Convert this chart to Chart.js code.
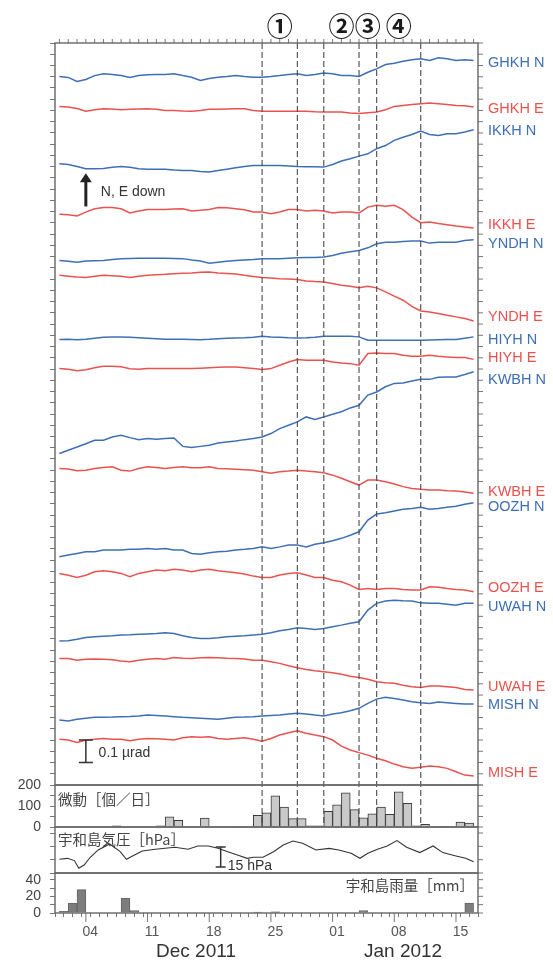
<!DOCTYPE html>
<html lang="ja">
<head>
<meta charset="UTF-8">
<title>傾斜変化 GHKH–MISH</title>
<script src="https://cdn.jsdelivr.net/npm/chart.js@4.4.1/dist/chart.umd.min.js"></script>
<style>
  html, body { margin: 0; padding: 0; background: #fff; }
  #wrap { width: 553px; height: 960px; }
</style>
</head>
<body>
<div id="wrap"><canvas id="tiltChart" width="553" height="960"></canvas></div>
<script>
// days since 1 Dec 2011 (00:00)
const dayIndex = [0, 1, 2, 3, 4, 5, 6, 7, 8, 9, 10, 11, 12, 13, 14, 15, 16, 17, 18, 19, 20, 21, 22, 23,
                  24, 25, 26, 27, 28, 29, 30, 31, 32, 33, 34, 35, 36, 37, 38, 39, 40, 41, 42, 43, 44, 45, 46, 47];

const tickDays = [3, 10, 17, 24, 31, 38, 45];
const tickText = ['04', '11', '18', '25', '01', '08', '15'];
const monthLabels = ['Dec 2011', 'Jan 2012'];
const monthDays = [15.5, 39.0];

// dashed lines and numbered episodes
const eventDays = [23, 27, 30, 34, 36, 41];
const phaseLabels = ['①', '②', '③', '④'];
const phaseDays = [25, 32, 35, 38.5];

// tilt traces, units of 0.01 µrad; base = stacked level on 1 Dec, series = change from that day
const traceNames = ['GHKH N', 'GHKH E', 'IKKH N', 'IKKH E', 'YNDH N', 'YNDH E', 'HIYH N', 'HIYH E',
                    'KWBH N', 'KWBH E', 'OOZH N', 'OOZH E', 'UWAH N', 'UWAH E', 'MISH N', 'MISH E'];
const traceBase = [315.1, 301.8, 276.3, 253.8, 233.3, 226.7, 198.1, 185.2,
                   147.4, 140.8, 101.5, 94.1, 64.0, 56.3, 28.9, 20.3];

const ghkhN = [0, -0.4, -2.2, -1.3, 0.4, 1.2, 0.9, 0.4, -0.4, 0.4,
  0.8, 0.9, 0.9, 1.2, 0.4, -0.3, -1.8, -0.9, -0.3, 0,
  0.4, 0, -0.3, -0.3, 0, 0.4, 0.9, 1.2, 0.4, 0.9,
  1.6, 1.2, 0.4, 0.4, 0, 1.9, 3.4, 5.3, 5.9, 6.8,
  7.4, 7.9, 7.1, 8.3, 7.9, 7.1, 7.4, 7.1];
const ghkhE = [0, -0.3, -0.9, -2.1, -1.5, -1.0, -1.2, -1.5, -1.3, -1.1,
  -1.0, -1.3, -1.8, -1.8, -2.0, -2.1, -1.8, -1.3, -1.3, -1.1,
  -1.0, -1.0, -1.8, -2.1, -2.1, -2.1, -2.1, -2.1, -2.2, -2.4,
  -2.5, -2.5, -2.5, -2.9, -3.2, -2.8, -2.5, -1.5, 0, 0.4,
  0.8, 1.2, 1.5, 1.2, 0.9, 0.4, 0.3, -0.3];
const ikkhN = [0, -0.3, -1.2, -2.2, -2.2, -2.1, -1.6, -1.2, -1.6, -2.2,
  -2.4, -2.5, -2.5, -2.8, -3.0, -3.0, -3.4, -3.7, -3.0, -2.4,
  -1.8, -1.2, -0.8, -0.8, -0.8, -0.8, -1.0, -1.2, -1.3, -1.3,
  -1.5, -0.3, 1.2, 2.2, 3.4, 4.4, 6.7, 8.1, 10.4, 11.8,
  13.0, 14.5, 13.0, 12.6, 13.3, 13.3, 14.1, 15.1];
const ikkhE = [0, -0.2, -0.7, 1.0, 2.5, 3.0, 3.0, 2.5, 0.6, 1.5,
  2.2, 2.2, 2.2, 2.4, 2.5, 1.5, 1.8, 2.2, 3.0, 2.9,
  2.5, 2.0, 1.0, 1.0, 0.3, 1.0, 2.1, 2.2, 1.5, 1.8,
  1.5, 0.6, 1.0, 1.0, 0.6, 3.2, 4.0, 3.6, 4.0, 2.1,
  -1.2, -3.7, -3.4, -4.1, -4.6, -5.2, -5.6, -6.1];
const yndhN = [0, -0.4, -0.8, -0.3, -0.1, 0, 0.4, 0.8, 0.9, 1.0,
  1.0, 1.0, 1.0, 0.9, 0.8, 0.2, -0.3, -1.2, -0.8, -0.4,
  0, 0.2, 0.4, 0.8, 0.8, 0.8, 1.0, 1.2, 1.3, 1.3,
  1.5, 2.2, 3.2, 3.9, 4.4, 5.6, 7.4, 8.1, 8.1, 8.4,
  8.6, 8.6, 7.7, 8.1, 8.1, 8.1, 8.9, 9.2];
const yndhE = [0, -0.4, -0.8, -1.0, -0.4, 0, -0.2, -0.4, -1.0, -0.4,
  0, 0.2, 0.4, 0.7, 0.9, 1.0, 1.3, 1.5, 1.0, 0.8,
  0.6, 0, -0.5, -1.0, -1.2, -1.5, -1.7, -1.9, -2.5, -2.8,
  -3.0, -3.7, -4.4, -4.9, -5.6, -4.9, -5.6, -7.4, -9.3, -11.1,
  -13.8, -15.9, -16.3, -17.0, -17.8, -18.5, -19.2, -20.3];
const hiyhN = [0, 0.1, -0.1, 0.1, 0.6, 1.0, 1.2, 1.2, 1.0, 0.8,
  0.6, 0.4, 0.1, 0.1, 0.1, 0, -0.1, 0.1, 0.4, 0.6,
  0.7, 0.8, 1.0, 1.5, 1.2, 1.0, 0.8, 0.7, 0.8, 1.0,
  1.5, 1.5, 1.5, 1.5, 1.2, -0.3, -0.3, -0.3, -0.3, -0.3,
  -0.3, -0.3, -0.2, -0.1, 0, 0, 0.6, 1.2];
const hiyhE = [0, -0.3, -1.0, -0.5, 0.4, 1.0, 1.0, 0.8, -0.1, -0.3,
  0, 0, 0, 0, 0, 0, 0.2, 0.4, 0.6, 0.7,
  0.7, 0.4, 0, -0.4, 0, 1.5, 2.9, 4.0, 3.7, 3.7,
  3.7, 2.9, 2.5, 2.2, 1.5, 6.7, 6.9, 6.7, 6.7, 5.9,
  5.5, 5.5, 5.9, 5.5, 5.2, 4.9, 4.9, 4.1];
const kwbhN = [0, 1.5, 2.9, 4.4, 5.9, 5.9, 7.4, 8.1, 7.1, 6.2,
  6.7, 6.4, 6.7, 6.9, 3.2, 2.7, 3.2, 3.7, 4.7, 5.2,
  5.6, 6.2, 6.7, 7.4, 8.9, 11.1, 12.6, 14.1, 16.3, 15.2,
  16.3, 17.5, 18.6, 20.3, 21.5, 26.0, 27.4, 29.7, 31.2, 31.4,
  32.3, 33.0, 33.0, 33.9, 34.1, 34.1, 35.2, 36.4];
const kwbhE = [0, -0.3, -1.0, -0.8, 0, 0.4, 0.7, -0.8, -1.2, 0,
  0.7, 0.4, 0, 0.4, 0.7, 0.3, 0.3, 0.7, 0, -0.2,
  -0.4, -0.6, -0.8, -1.5, -2.2, -1.5, -1.2, -0.8, -1.2, -1.5,
  -1.9, -3.0, -4.4, -5.9, -7.4, -5.2, -5.2, -5.9, -6.9, -8.1,
  -8.9, -9.3, -9.6, -9.6, -9.9, -10.1, -10.5, -11.0];
const oozhN = [0, 0.8, 1.5, 2.2, 2.2, 3.0, 3.0, 3.0, 3.4, 3.3,
  3.7, 3.3, 3.7, 3.0, 3.0, 1.5, 1.1, 1.8, 2.2, 2.5,
  3.0, 3.3, 3.7, 4.4, 3.7, 4.4, 5.2, 5.2, 4.4, 5.6,
  6.2, 7.1, 8.2, 9.6, 11.1, 16.3, 19.0, 19.6, 20.4, 21.1,
  21.5, 22.0, 21.1, 21.5, 22.0, 22.5, 23.4, 24.0];
const oozhE = [0, -0.8, -1.8, -0.8, 0.7, 1.2, 0.7, 0, -1.5, 0,
  0.7, 1.5, 1.2, 1.8, 1.5, 0.7, 1.5, 1.8, 1.2, 0.7,
  0.3, -0.3, -1.2, -1.8, -1.8, -0.7, 0, 0.3, -0.7, -1.8,
  -1.8, -3.0, -3.7, -5.2, -7.1, -6.7, -7.1, -6.7, -6.7, -7.1,
  -7.4, -7.4, -5.9, -6.2, -6.7, -7.1, -7.4, -8.2];
const uwahN = [0, 0.2, 0.8, 1.6, 1.9, 2.2, 2.4, 2.7, 2.8, 3.0,
  3.2, 3.4, 3.7, 3.4, 2.4, 1.6, 1.2, 1.2, 1.5, 1.9,
  2.2, 2.4, 2.7, 3.0, 3.7, 4.6, 5.2, 5.9, 5.6, 5.2,
  5.6, 6.4, 7.1, 7.9, 8.6, 13.8, 16.8, 17.8, 18.2, 17.9,
  17.8, 17.0, 16.8, 16.8, 16.4, 16.0, 16.8, 16.8];
const uwahE = [0, 0, -0.8, -0.4, -0.3, -0.4, -0.6, -1.1, -1.5, -0.8,
  -0.4, 0, -0.4, 0.4, 0.1, 0, 0.3, 0.4, 0.3, 0.1,
  0, -0.3, -0.8, -0.8, -1.5, -2.2, -3.3, -4.2, -4.9, -5.5,
  -5.9, -6.4, -7.0, -7.9, -8.5, -9.3, -10.4, -10.8, -11.1, -11.9,
  -12.6, -12.9, -12.3, -12.3, -12.6, -12.9, -13.8, -14.1];
const mishN = [0, -0.4, 0.3, 0.8, 1.2, 1.2, 1.3, 1.5, 1.6, 1.8,
  2.2, 2.0, 1.8, 1.5, 1.2, 1.0, 0.8, 0.6, 0.3, 0.8,
  1.2, 1.3, 1.5, 1.8, 2.0, 2.2, 2.7, 3.0, 2.7, 2.2,
  1.8, 2.7, 3.2, 4.1, 5.2, 7.4, 9.3, 10.1, 9.6, 8.9,
  8.1, 7.7, 7.4, 8.0, 7.7, 7.4, 7.1, 7.1];
const mishE = [0, -0.3, -1.4, -0.3, 0, 0.4, 0.1, 0, -0.6, 0,
  0.4, 0.3, 0.1, -0.3, 0.7, 1.2, 0.9, 1.2, 0.4, 0.1,
  0.4, 0.7, 0, -0.8, 0.4, 1.9, 2.9, 3.8, 2.7, 1.9,
  1.2, -0.3, -3.0, -4.7, -5.9, -7.0, -8.4, -9.5, -11.0, -12.2,
  -12.9, -12.4, -11.9, -12.2, -12.9, -14.4, -15.9, -16.3];

const traceDev = [ghkhN, ghkhE, ikkhN, ikkhE, yndhN, yndhE, hiyhN, hiyhE,
                  kwbhN, kwbhE, oozhN, oozhE, uwahN, uwahE, mishN, mishE];

// tremor events per day (1 Dec .. 16 Jan)
const tremorCounts = [0, 0, 0, 0, 0, 0, 5, 0, 0, 0,
  0, 5, 48, 32, 0, 0, 43, 0, 0, 0,
  3, 0, 56, 68, 148, 95, 40, 40, 5, 5,
  75, 105, 163, 83, 44, 63, 95, 60, 168, 113,
  5, 13, 0, 3, 0, 24, 19];

// Uwajima air pressure [hPa]
const presDays = [0, 0.9, 1.7, 2.2, 2.8, 3.5, 4.4, 5.7, 6.9, 7.6, 8.3, 9.4, 10.9, 13.1, 14.6, 15.7, 16.9,
  18.0, 19.1, 20.2, 21.3, 22.0, 23.1, 24.3, 25.4, 26.5, 27.6, 29.1, 30.6, 31.7, 33.1, 34.1, 35.0,
  36.1, 37.2, 38.3, 39.4, 40.9, 42.4, 43.5, 45.0, 46.1, 47.0];
const presHpa = [1010.3, 1011.0, 1009.3, 1003.5, 1006.0, 1011.8, 1017.3, 1021.8, 1016.0, 1010.3, 1012.8,
  1016.5, 1017.8, 1019.3, 1017.8, 1020.3, 1020.3, 1018.5, 1016.0, 1013.5, 1011.0, 1011.8, 1011.8,
  1016.0, 1021.0, 1024.0, 1022.3, 1017.3, 1018.5, 1017.3, 1014.8, 1011.0, 1014.8, 1017.8, 1020.3,
  1024.3, 1019.3, 1015.3, 1020.3, 1015.3, 1012.8, 1011.0, 1008.5];

// Uwajima daily rainfall [mm]
const rainMm = [2, 11.6, 28, 0, 0, 0, 0, 17.6, 3, 0,
  0, 0, 0, 0, 0, 0, 0, 0, 0, 0,
  0, 0, 1, 0, 1.5, 0, 0, 0, 0, 0,
  0, 0, 0, 0, 3, 0, 0, 0, 0, 0,
  0, 0, 0, 0, 0, 0, 12];

const BLUE = '#3e6fb5';
const RED = '#e9534f';
const FONT = "'Liberation Sans', Arial, sans-serif";
const JP = "'Noto Sans CJK JP', 'Noto Sans CJK SC', sans-serif";
// small vertical nudges (px) so neighbouring station names don't collide
const labelNudge = [2, 2, 1, -3, 4, -4, 3, -1, 8, -1, 4, -4, 4, -3, 1, -3];

const traceSets = traceNames.map((name, k) => ({
  type: 'line',
  label: name,
  yAxisID: 'yTilt',
  data: dayIndex.map((d, i) => ({ x: d, y: traceBase[k] + traceDev[k][i] })),
  borderColor: name.endsWith('N') ? BLUE : RED,
  borderWidth: 1.5,
  pointRadius: 0,
  tension: 0
}));

const tremorSet = {
  type: 'bar',
  label: '微動',
  yAxisID: 'yTrem',
  grouped: false,
  data: tremorCounts.map((v, i) => ({ x: i + 0.5, y: v > 0 ? v : null })),
  backgroundColor: '#c9c9c9',
  borderColor: '#3a3a3a',
  borderWidth: 1,
  barPercentage: 1,
  categoryPercentage: 1
};

const presSet = {
  type: 'line',
  label: '気圧',
  yAxisID: 'yPres',
  data: presDays.map((d, i) => ({ x: d, y: presHpa[i] })),
  borderColor: '#333',
  borderWidth: 1.1,
  pointRadius: 0
};

const rainSet = {
  type: 'bar',
  label: '雨量',
  yAxisID: 'yRain',
  grouped: false,
  data: rainMm.map((v, i) => ({ x: i + 0.5, y: v > 0 ? v : null })),
  backgroundColor: '#7d7d7d',
  borderColor: '#666',
  borderWidth: 1,
  barPercentage: 1,
  categoryPercentage: 1
};

const decor = {
  id: 'decor',
  afterDatasetsDraw(chart) {
    const { ctx, chartArea: ca } = chart;
    const { x, yTilt, yTrem, yPres, yRain } = chart.scales;
    const panels = [yTilt, yTrem, yPres, yRain];
    ctx.save();

    // episode boundaries
    ctx.strokeStyle = '#4a4a4a';
    ctx.lineWidth = 1.1;
    ctx.setLineDash([6, 3]);
    eventDays.forEach(d => {
      const px = x.getPixelForValue(d);
      ctx.beginPath();
      ctx.moveTo(px, yTilt.top);
      ctx.lineTo(px, yTrem.bottom);
      ctx.stroke();
    });
    ctx.setLineDash([]);

    // extra ticks: top, right, long weekly ticks at bottom
    ctx.strokeStyle = '#777';
    ctx.lineWidth = 1;
    x.ticks.forEach(t => {
      const px = x.getPixelForValue(t.value);
      ctx.beginPath(); ctx.moveTo(px, ca.top); ctx.lineTo(px, ca.top - 4); ctx.stroke();
    });
    tickDays.forEach(d => {
      const px = x.getPixelForValue(d);
      ctx.beginPath(); ctx.moveTo(px, ca.bottom); ctx.lineTo(px, ca.bottom + 9); ctx.stroke();
    });
    panels.forEach(s => s.ticks.forEach(t => {
      const py = s.getPixelForValue(t.value);
      ctx.beginPath(); ctx.moveTo(ca.right, py); ctx.lineTo(ca.right + 5, py); ctx.stroke();
    }));

    // panel frames
    ctx.strokeStyle = '#666';
    ctx.lineWidth = 1.4;
    panels.forEach(s => ctx.strokeRect(ca.left, s.top, ca.right - ca.left, s.bottom - s.top));

    // station labels at the end of each trace
    ctx.font = '14.5px ' + FONT;
    ctx.textAlign = 'left';
    ctx.textBaseline = 'middle';
    traceNames.forEach((name, k) => {
      const dev = traceDev[k];
      const py = yTilt.getPixelForValue(traceBase[k] + dev[dev.length - 1]) + labelNudge[k];
      ctx.fillStyle = name.endsWith('N') ? BLUE : RED;
      ctx.fillText(name, ca.right + 10, py);
    });

    // numbered episodes
    ctx.fillStyle = '#1a1a1a';
    ctx.font = 'bold 26px ' + JP;
    ctx.textAlign = 'center';
    phaseLabels.forEach((s, i) => ctx.fillText(s, x.getPixelForValue(phaseDays[i]), ca.top - 17));

    // month labels
    ctx.fillStyle = '#333';
    ctx.font = '19px ' + FONT;
    ctx.textBaseline = 'alphabetic';
    monthLabels.forEach((s, i) => ctx.fillText(s, x.getPixelForValue(monthDays[i]), ca.bottom + 44));

    // panel titles
    ctx.fillStyle = '#444';
    ctx.font = '14.5px ' + JP;
    ctx.textBaseline = 'middle';
    ctx.textAlign = 'left';
    ctx.fillText('微動［個／日］', ca.left + 3, yTrem.top + 14);
    ctx.fillText('宇和島気圧［hPa］', ca.left + 3, yPres.top + 12);
    ctx.textAlign = 'right';
    ctx.fillText('宇和島雨量［mm］', ca.right - 4, yRain.top + 12);

    // "N, E down" arrow
    const ax = x.getPixelForValue(3);
    const a0 = yTilt.getPixelForValue(257.3);
    const a1 = yTilt.getPixelForValue(272.1);
    ctx.strokeStyle = '#222';
    ctx.fillStyle = '#222';
    ctx.lineWidth = 3;
    ctx.beginPath(); ctx.moveTo(ax, a0); ctx.lineTo(ax, a1 + 8); ctx.stroke();
    ctx.beginPath(); ctx.moveTo(ax, a1); ctx.lineTo(ax - 6, a1 + 9); ctx.lineTo(ax + 6, a1 + 9); ctx.closePath(); ctx.fill();
    ctx.fillStyle = '#333';
    ctx.font = '14px ' + FONT;
    ctx.textAlign = 'left';
    ctx.fillText('N, E down', x.getPixelForValue(4.7), yTilt.getPixelForValue(263.6));

    // 0.1 µrad scale bar (10 units)
    ctx.lineWidth = 1.5;
    ctx.strokeStyle = '#333';
    const b0 = yTilt.getPixelForValue(10), b1 = yTilt.getPixelForValue(20);
    ctx.beginPath();
    ctx.moveTo(ax, b0); ctx.lineTo(ax, b1);
    ctx.moveTo(ax - 7, b0); ctx.lineTo(ax + 7, b0);
    ctx.moveTo(ax - 7, b1); ctx.lineTo(ax + 7, b1);
    ctx.stroke();
    ctx.fillText('0.1 µrad', x.getPixelForValue(4.45), yTilt.getPixelForValue(14.3));

    // 15 hPa scale bar
    const px = x.getPixelForValue(18.3);
    const p0 = yPres.getPixelForValue(1004.5), p1 = yPres.getPixelForValue(1019.5);
    ctx.beginPath();
    ctx.moveTo(px, p0); ctx.lineTo(px, p1);
    ctx.moveTo(px - 5, p0); ctx.lineTo(px + 5, p0);
    ctx.moveTo(px - 5, p1); ctx.lineTo(px + 5, p1);
    ctx.stroke();
    ctx.fillText('15 hPa', x.getPixelForValue(19.1), yPres.getPixelForValue(1005.3));

    ctx.restore();
  }
};

const leftAxis = (extra) => Object.assign({
  type: 'linear',
  position: 'left',
  stack: 'panels',
  afterFit: s => { s.width = 55; },
  border: { display: false },
  grid: { drawOnChartArea: false, drawTicks: true, tickLength: 5, color: '#777' },
}, extra);

const ctx = document.getElementById('tiltChart').getContext('2d');
new Chart(ctx, {
  type: 'line',
  data: { datasets: [...traceSets, tremorSet, presSet, rainSet] },
  options: {
    responsive: false,
    animation: false,
    events: [],
    layout: { padding: { top: 43, right: 75, left: 0, bottom: 0 } },
    plugins: { legend: { display: false }, tooltip: { enabled: false } },
    scales: {
      x: {
        type: 'linear',
        position: 'bottom',
        min: 0,
        max: 47,
        afterFit: s => { s.height = 47; },
        border: { display: false },
        grid: { drawOnChartArea: false, drawTicks: true, tickLength: 4, color: '#777' },
        ticks: {
          stepSize: 1,
          autoSkip: false,
          maxRotation: 0,
          labelOffset: 4.5,
          padding: 7,
          color: '#555',
          font: { family: FONT, size: 14 },
          callback: v => { const i = tickDays.indexOf(v); return i >= 0 ? tickText[i] : ''; }
        }
      },
      yTilt: leftAxis({
        weight: 4, stackWeight: 742, min: 0, max: 330,
        ticks: { stepSize: 5, autoSkip: false, includeBounds: false, callback: () => '' }
      }),
      yTrem: leftAxis({
        weight: 3, stackWeight: 42, min: 0, max: 200,
        ticks: { stepSize: 50, autoSkip: false, includeBounds: false, padding: 9, color: '#444',
                 font: { family: FONT, size: 14 },
                 callback: v => (v % 100 === 0 ? String(v) : '') }
      }),
      yPres: leftAxis({
        weight: 2, stackWeight: 46, min: 1000, max: 1034.5,
        ticks: { stepSize: 10, autoSkip: false, includeBounds: false, callback: () => '' }
      }),
      yRain: leftAxis({
        weight: 1, stackWeight: 40, min: 0, max: 48,
        ticks: { stepSize: 10, autoSkip: false, includeBounds: false, padding: 9, color: '#444',
                 font: { family: FONT, size: 14 },
                 callback: v => (v % 20 === 0 ? String(v) : '') }
      })
    }
  },
  plugins: [decor]
});
</script>
</body>
</html>
